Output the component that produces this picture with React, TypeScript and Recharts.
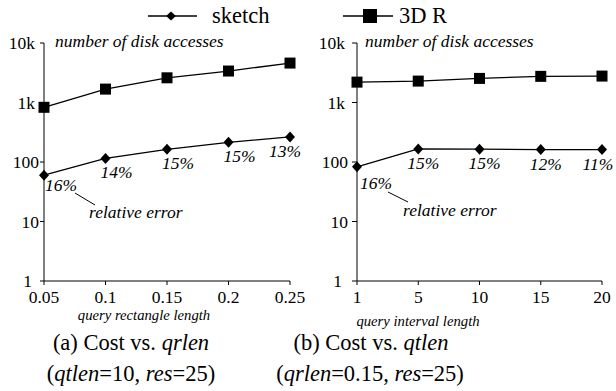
import React from 'react';
import { LineChart, Line, XAxis, YAxis, LabelList } from 'recharts';

const seriesNames = ['sketch', '3D R'];
const yTicks = [1, 10, 100, 1000, 10000];

const xRect = ['0.05', '0.1', '0.15', '0.2', '0.25'];
const sketchRect = [60, 115, 163, 214, 264];
const rtreeRect = [830, 1680, 2600, 3380, 4600];
const errRect = ['16%', '14%', '15%', '15%', '13%'];

const xInt = ['1', '5', '10', '15', '20'];
const sketchInt = [83, 166, 164, 162, 162];
const rtreeInt = [2200, 2290, 2540, 2750, 2780];
const errInt = ['16%', '15%', '15%', '12%', '11%'];

const FONT = 'Liberation Serif, Times New Roman, serif';

const dataRect = xRect.map((x, i) => ({ x, sketch: sketchRect[i], rtree: rtreeRect[i], err: errRect[i] }));
const dataInt = xInt.map((x, i) => ({ x, sketch: sketchInt[i], rtree: rtreeInt[i], err: errInt[i] }));

const fmt = (v: number) => (v >= 10000 ? '10k' : v >= 1000 ? '1k' : String(v));

const Diamond = (props: any) => {
  const { cx, cy } = props;
  if (cx == null || cy == null) return null;
  return <polygon points={`${cx - 5},${cy} ${cx},${cy - 5.5} ${cx + 5},${cy} ${cx},${cy + 5.5}`} fill="#000" />;
};
const Square = (props: any) => {
  const { cx, cy } = props;
  if (cx == null || cy == null) return null;
  return <rect x={cx - 5.5} y={cy - 5.5} width={11} height={11} fill="#000" />;
};

const makeErrLabel = (firstDx: number, firstDy: number, dx: number, lastDx: number) => (props: any) => {
  const { x, y, value, index } = props;
  const n = 5;
  let anchor: 'start' | 'middle' = 'middle';
  let xx = x + dx;
  let yy = y + 20;
  if (index === 0) {
    anchor = 'start';
    xx = x + firstDx;
    yy = y + firstDy;
  } else if (index === n - 1) {
    xx = x + lastDx;
  }
  return (
    <text x={xx} y={yy} textAnchor={anchor} style={{ fontFamily: FONT, fontStyle: 'italic', fontSize: 17.5 }} fill="#000">
      {value}
    </text>
  );
};

const makeYTick = (kShift: number, oneShift: number) => (props: any) => {
  const { x, y, payload } = props;
  const v = payload.value;
  const shift = v >= 1000 ? kShift : v === 1 ? oneShift : 0;
  return (
    <text x={x + shift} y={y} dy="0.355em" textAnchor="end" style={{ fontFamily: FONT, fontSize: 17.5 }} fill="#000">
      {fmt(v)}
    </text>
  );
};

const tickStyle = { fontSize: 17.5, fill: '#000', style: { fontFamily: FONT } };

function Panel({ data, left, width, yAxisWidth, rightMargin, yTickSize, yTickMargin, yTick, label }: any) {
  return (
    <div style={{ position: 'absolute', left, top: 0 }}>
      <LineChart width={width} height={320} data={data} margin={{ top: 43, right: rightMargin, left: 0, bottom: 20 }}>
        <XAxis
          dataKey="x"
          type="category"
          height={19}
          stroke="#000"
          tickSize={4}
          tickMargin={6}
          tick={tickStyle}
          interval={0}
        />
        <YAxis
          type="number"
          scale="log"
          domain={[1, 10000]}
          allowDataOverflow
          ticks={yTicks}
          width={yAxisWidth}
          stroke="#000"
          tickSize={yTickSize}
          tickMargin={yTickMargin}
          tick={yTick}
          interval={0}
        />
        <Line dataKey="rtree" stroke="#000" strokeWidth={1.3} dot={<Square />} isAnimationActive={false} />
        <Line dataKey="sketch" stroke="#000" strokeWidth={1.3} dot={<Diamond />} isAnimationActive={false}>
          <LabelList dataKey="err" content={label} />
        </Line>
      </LineChart>
    </div>
  );
}

export default function App() {
  return (
    <div style={{ position: 'absolute', left: 0, top: 0, width: 616, height: 391, background: '#fff', overflow: 'hidden', fontFamily: FONT }}>
      <Panel data={dataRect} left={0} width={310} yAxisWidth={44} rightMargin={20} yTickSize={4} yTickMargin={1} yTick={makeYTick(-4, -7)} label={makeErrLabel(1, 16, 11, -5)} />
      <Panel data={dataInt} left={300} width={316} yAxisWidth={57} rightMargin={14} yTickSize={5} yTickMargin={4} yTick={makeYTick(-3, -6)} label={makeErrLabel(3, 22, 5, -4)} />
      <svg width={616} height={391} style={{ position: 'absolute', left: 0, top: 0, pointerEvents: 'none', fontFamily: FONT }}>
        {/* legend */}
        <line x1={148} y1={16} x2={197} y2={16} stroke="#000" strokeWidth={1.3} />
        <polygon points="166,16 171,11.5 176,16 171,20.5" fill="#000" />
        <text x={212} y={23} fontSize={22.5}>{seriesNames[0]}</text>
        <line x1={343} y1={16} x2={393} y2={16} stroke="#000" strokeWidth={1.3} />
        <rect x={363} y={9} width={14} height={14} fill="#000" />
        <text x={399} y={23} fontSize={22.5}>{seriesNames[1]}</text>

        {/* annotations */}
        <text x={55} y={47} fontSize={17.5} fontStyle="italic">number of disk accesses</text>
        <text x={365} y={47} fontSize={17.5} fontStyle="italic">number of disk accesses</text>
        <line x1={75} y1={193} x2={95} y2={205} stroke="#000" strokeWidth={1} />
        <text x={89} y={218} fontSize={17.5} fontStyle="italic">relative error</text>
        <line x1={388} y1={192} x2={408} y2={202} stroke="#000" strokeWidth={1} />
        <text x={403} y={216} fontSize={17.5} fontStyle="italic">relative error</text>

        {/* axis titles */}
        <text x={144} y={320} fontSize={14.7} fontStyle="italic" textAnchor="middle">query rectangle length</text>
        <text x={418} y={326} fontSize={14.7} fontStyle="italic" textAnchor="middle">query interval length</text>

        {/* captions */}
        <text x={131} y={350} fontSize={22.5} textAnchor="middle">
          (a) Cost vs. <tspan fontStyle="italic">qrlen</tspan>
        </text>
        <text x={131} y={381} fontSize={22.5} textAnchor="middle">
          (<tspan fontStyle="italic">qtlen</tspan>=10, <tspan fontStyle="italic">res</tspan>=25)
        </text>
        <text x={371} y={350} fontSize={22.5} textAnchor="middle">
          (b) Cost vs. <tspan fontStyle="italic">qtlen</tspan>
        </text>
        <text x={370} y={381} fontSize={22.5} textAnchor="middle">
          (<tspan fontStyle="italic">qrlen</tspan>=0.15, <tspan fontStyle="italic">res</tspan>=25)
        </text>
      </svg>
    </div>
  );
}
